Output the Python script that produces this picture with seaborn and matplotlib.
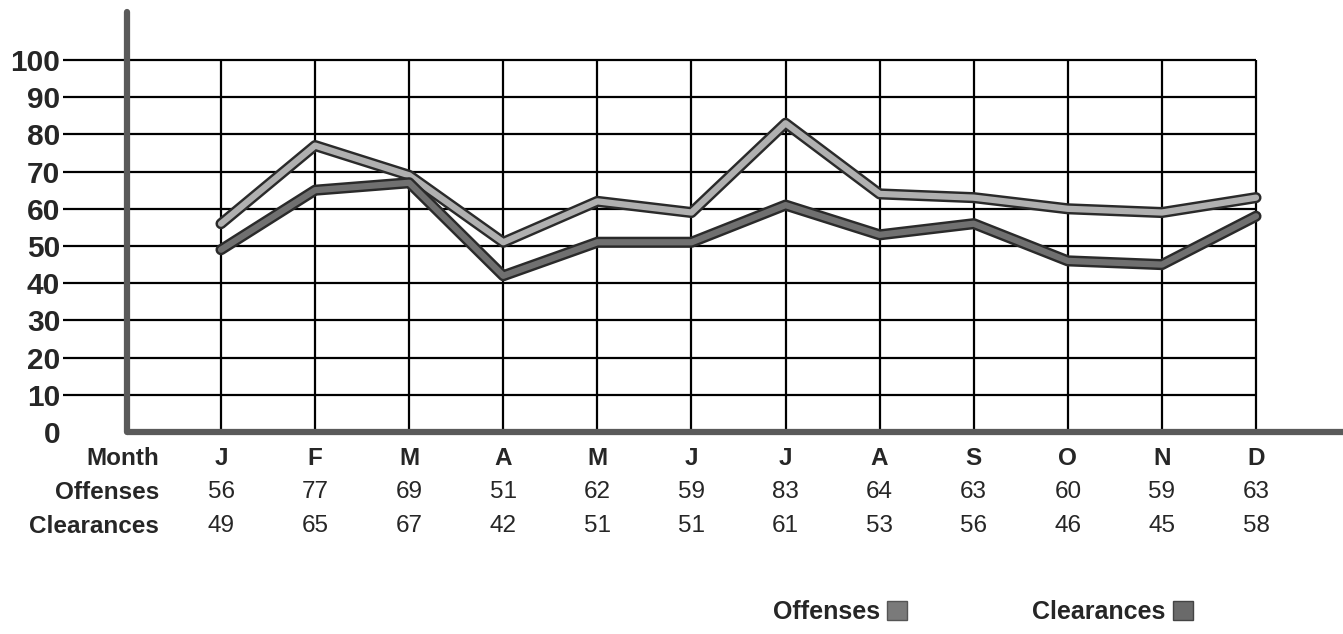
import numpy as np
import pandas as pd
import matplotlib
matplotlib.use('Agg')
import matplotlib.pyplot as plt
import matplotlib.patheffects as pe
from matplotlib.patches import Patch
import seaborn as sns

months = ['J', 'F', 'M', 'A', 'M', 'J', 'J', 'A', 'S', 'O', 'N', 'D']
offenses = [56, 77, 69, 51, 62, 59, 83, 64, 63, 60, 59, 63]
clearances = [49, 65, 67, 42, 51, 51, 61, 53, 56, 46, 45, 58]
y_ticks = [0, 10, 20, 30, 40, 50, 60, 70, 80, 90, 100]

sns.set_style('white')
plt.rcParams['font.family'] = ['Liberation Sans', 'DejaVu Sans']

df = pd.DataFrame({
    'idx': list(range(12)) * 2,
    'value': offenses + clearances,
    'series': ['Offenses'] * 12 + ['Clearances'] * 12,
})

W, H = 1343, 634
fig = plt.figure(figsize=(W / 100, H / 100), dpi=100)
# axes: left edge where the gridlines start, bottom at the zero line
ax = fig.add_axes([63 / W, (H - 432) / H, (W - 63) / W, 432 / H])
ax.set_xlim(-(221 - 63) / 94.09, 11 + (W - 1256) / 94.09)
ax.set_ylim(0, 432 / 3.72)

# grid
ax.hlines(y_ticks[1:], ax.get_xlim()[0], 11, color='black', lw=1.6, zorder=1)
ax.vlines(range(12), 0, 100, color='black', lw=1.6, zorder=1)

palette = {'Offenses': '#b0b0b0', 'Clearances': '#707070'}
sns.lineplot(data=df, x='idx', y='value', hue='series', palette=palette,
             lw=4.5, legend=False, ax=ax, zorder=3)
for ln in ax.lines:
    ln.set_solid_capstyle('round')
    ln.set_solid_joinstyle('round')
    ln.set_path_effects([pe.Stroke(linewidth=8, foreground='#2a2a2a'), pe.Normal()])

# thick axes
ax.plot([-1, -1], [0, (432 - 12) / 3.72], color='#5a5a5a', lw=4.5,
        solid_capstyle='round', clip_on=False, zorder=4)
ax.plot([-1, ax.get_xlim()[1]], [0, 0], color='#5a5a5a', lw=4.5,
        solid_capstyle='butt', clip_on=False, zorder=4)

for s in ax.spines.values():
    s.set_visible(False)
ax.set_xticks([])
ax.set_yticks(y_ticks)
ax.set_yticklabels([str(v) for v in y_ticks], fontsize=21.5, fontweight='bold')
ax.tick_params(axis='y', length=0, pad=2)
ax.set_xlabel('')
ax.set_ylabel('')

# table under the chart
rows = [('Month', months, 'bold', -7.0),
        ('Offenses', offenses, 'normal', -16.2),
        ('Clearances', clearances, 'normal', -25.3)]
for label, vals, w, yy in rows:
    ax.text(-0.66, yy, label, ha='right', va='center', fontsize=17.5,
            fontweight='bold', clip_on=False)
    for i, v in enumerate(vals):
        ax.text(i, yy, str(v), ha='center', va='center', fontsize=17.5,
                fontweight=w, clip_on=False)

handles = [Patch(facecolor='#7a7a7a', edgecolor='#555555', label='Offenses'),
           Patch(facecolor='#6a6a6a', edgecolor='#444444', label='Clearances')]
fig.legend(handles=handles, loc='center left', bbox_to_anchor=(750 / W, 1 - 612 / H),
           ncol=2, markerfirst=False, frameon=False, handlelength=0.8,
           handleheight=0.8, handletextpad=0.3, columnspacing=5.0,
           prop={'size': 18, 'weight': 'bold'})

fig.savefig('out.png', dpi=100)
